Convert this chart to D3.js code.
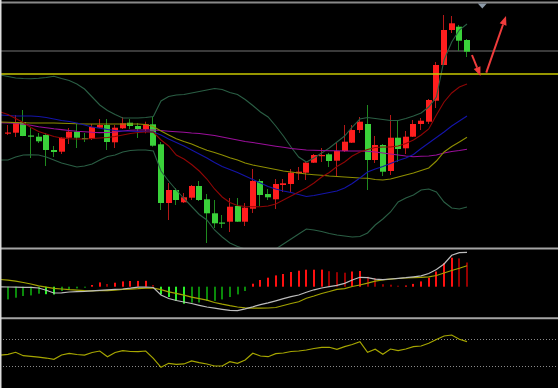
<!DOCTYPE html>
<html><head><meta charset="utf-8">
<script src="https://cdn.jsdelivr.net/npm/d3@7"></script>
<style>html,body{margin:0;padding:0;background:#000;overflow:hidden}</style>
</head><body><svg id="c" width="558" height="388"></svg>
<script>
// ---- candles (index 0..60) ----
const open  = [16.65,16.73,17.8,16.45,16.33,16.5,15.0,14.83,16.23,16.83,16.2,16.1,17.23,17.5,15.77,17.17,17.73,17.4,17.07,17.57,15.57,9.7,11.0,9.77,10.23,11.4,10.07,8.67,7.75,7.83,9.4,7.83,9.13,11.9,10.6,10.07,11.5,11.6,12.67,12.73,13.73,14.4,14.57,13.93,14.9,15.73,17.0,17.6,14.0,15.5,12.9,16.23,15.17,16.33,17.6,17.83,19.93,23.5,27.0,27.33,26.0];
const close = [16.75,17.8,16.4,16.35,15.87,15.0,14.8,16.23,16.83,16.23,16.1,17.3,17.5,15.8,17.23,17.67,17.4,17.1,17.57,15.43,9.7,11.0,10.0,10.27,11.4,10.0,8.67,7.67,7.65,9.33,7.83,9.23,11.9,10.5,10.27,11.6,11.67,12.73,12.83,13.73,14.5,14.5,13.9,14.9,15.83,17.0,17.83,14.0,15.5,12.83,16.23,15.1,16.33,17.6,17.93,20.0,23.5,27.0,27.67,25.93,24.83];
const high  = [17.5,18.5,19.0,17.2,16.7,16.7,15.4,16.3,17.2,17.6,16.7,17.6,18.1,18.1,17.5,18.3,18.1,17.7,17.83,18.33,15.8,11.7,11.2,10.7,11.5,11.9,10.6,10.0,8.5,10.2,10.2,9.7,13.1,12.1,11.1,12.1,12.1,13.1,13.3,13.9,14.6,15.2,14.7,15.8,17.5,17.5,18.3,19.5,16.4,15.6,18.5,17.9,16.9,18.0,18.2,20.1,23.8,28.5,28.4,27.5,26.1];
const low   = [16.5,16.3,16.38,14.2,15.7,13.4,14.3,14.6,15.6,15.2,15.8,16.0,17.2,15.0,15.2,17.1,17.1,16.2,16.67,15.33,9.0,8.0,9.5,9.7,10.0,9.9,5.7,7.2,7.2,6.8,7.8,7.4,8.7,9.4,10.0,9.1,10.8,10.8,12.0,12.0,13.7,13.8,13.3,12.3,14.8,15.7,16.7,11.0,13.7,12.4,12.5,13.8,14.6,16.3,17.0,17.6,19.2,23.5,26.7,24.9,24.3];

// ---- overlay lines (index -1..60) ----
const bollUpper = [22.5,22.35,22.2,22.15,22.13,22.18,22.25,22.38,22.15,21.95,21.6,21.1,20.3,19.5,18.95,18.55,18.2,18.2,18.2,18.25,18.35,19.9,20.35,20.5,20.55,20.7,20.85,21.0,21.15,21.05,20.75,20.55,20.05,19.45,18.8,18.3,17.4,16.4,15.3,14.3,13.8,14.2,14.7,15.2,15.8,16.4,17.3,18.1,18.25,18.15,18.05,17.95,17.95,18.15,18.4,18.7,19.3,20.3,24.0,25.8,27.0,27.6];
const bollLower = [14.0,14.0,14.3,14.5,14.53,14.5,14.3,14.0,13.7,13.5,13.3,13.4,13.6,14.0,14.35,14.5,14.8,14.95,15.0,15.0,14.9,12.9,11.9,11.0,10.15,9.35,8.55,8.0,7.0,6.3,5.7,5.35,5.1,4.9,4.8,4.9,5.1,5.6,6.1,6.6,7.1,7.0,6.85,6.65,6.5,6.4,6.3,6.35,6.7,7.5,8.1,8.8,9.8,10.2,10.5,11.0,11.1,10.8,9.8,9.2,9.1,9.3];
const maRed    = [18.8,18.55,18.15,17.75,17.25,16.85,16.6,16.35,16.2,16.13,16.1,16.1,16.15,16.2,16.25,16.35,16.5,16.65,16.75,16.8,16.8,16.0,15.4,14.5,14.1,13.55,12.9,12.1,11.1,10.3,9.75,9.45,9.35,9.33,9.33,9.4,9.6,10.0,10.4,10.8,11.2,11.7,12.3,12.75,13.35,13.8,14.4,14.8,15.05,15.25,15.3,15.3,15.4,15.65,16.0,16.5,17.1,18.5,19.8,20.7,21.3,21.6];
const maBlue   = [18.5,18.45,18.4,18.4,18.4,18.35,18.25,18.1,17.95,17.85,17.7,17.5,17.3,17.17,17.05,16.95,16.9,16.87,16.85,16.85,16.8,16.5,16.1,15.75,15.4,15.0,14.6,14.2,13.75,13.35,13.05,12.75,12.4,12.05,11.7,11.35,11.1,10.9,10.75,10.55,10.35,10.45,10.6,10.75,10.9,11.2,11.65,12.2,12.8,13.1,13.35,13.65,13.95,14.2,14.55,15.15,15.7,16.25,16.8,17.4,17.9,18.4];
const maOlive  = [17.8,17.77,17.74,17.72,17.7,17.7,17.7,17.7,17.67,17.65,17.62,17.6,17.6,17.6,17.6,17.6,17.6,17.6,17.6,17.55,17.35,16.9,16.5,16.12,15.85,15.6,15.27,14.97,14.75,14.5,14.22,14.0,13.7,13.5,13.35,13.2,13.05,12.9,12.8,12.7,12.6,12.53,12.47,12.4,12.35,12.3,12.25,12.2,12.17,12.05,12.0,12.1,12.3,12.5,12.7,12.95,13.2,13.9,14.8,15.35,15.8,16.27];
const maPurple = [17.73,17.7,17.67,17.58,17.48,17.33,17.22,17.12,17.04,16.95,16.87,16.82,16.77,16.74,16.75,16.8,16.9,16.97,17.0,17.0,17.0,16.95,16.88,16.82,16.77,16.7,16.65,16.55,16.45,16.3,16.15,16.0,15.85,15.75,15.62,15.5,15.38,15.27,15.15,15.07,15.0,14.98,14.95,14.93,14.92,14.9,14.9,14.9,14.87,14.8,14.7,14.6,14.5,14.4,14.33,14.37,14.4,14.5,14.7,14.85,14.95,15.07];

// horizontal price levels
const levelGray = 24.9;
const levelYellow = 22.6;

// ---- MACD ----
const macdHist = [-0.127,-0.11,-0.093,-0.087,-0.07,-0.075,-0.078,-0.043,-0.033,-0.017,-0.01,0.017,0.043,0.027,0.04,0.053,0.057,0.058,0.059,0.017,-0.077,-0.103,-0.143,-0.17,-0.16,-0.158,-0.143,-0.141,-0.127,-0.103,-0.077,-0.043,0.03,0.067,0.09,0.113,0.127,0.147,0.16,0.17,0.17,0.171,0.155,0.145,0.14,0.152,0.157,0.10,0.085,0.025,0.02,0.01,0.012,0.028,0.053,0.09,0.152,0.237,0.29,0.283,0.242];
const macdDif = [-0.001,-0.003,-0.005,-0.006,-0.007,-0.013,-0.036,-0.063,-0.061,-0.053,-0.05,-0.047,-0.041,-0.036,-0.031,-0.026,-0.023,-0.015,-0.005,-0.003,-0.008,-0.083,-0.118,-0.138,-0.153,-0.168,-0.186,-0.203,-0.215,-0.226,-0.236,-0.239,-0.221,-0.201,-0.179,-0.161,-0.141,-0.12,-0.10,-0.083,-0.056,-0.031,-0.013,0.0,0.014,0.033,0.067,0.094,0.091,0.075,0.07,0.077,0.084,0.09,0.099,0.109,0.132,0.172,0.227,0.314,0.34,0.344];
const macdDea = [0.072,0.065,0.055,0.042,0.027,0.009,-0.005,-0.016,-0.023,-0.03,-0.035,-0.039,-0.041,-0.038,-0.039,-0.035,-0.027,-0.024,-0.02,-0.014,-0.015,-0.03,-0.051,-0.066,-0.085,-0.105,-0.12,-0.135,-0.158,-0.175,-0.19,-0.203,-0.211,-0.215,-0.215,-0.213,-0.208,-0.188,-0.168,-0.151,-0.116,-0.093,-0.068,-0.048,-0.026,-0.019,0.002,0.017,0.035,0.055,0.069,0.075,0.082,0.087,0.09,0.093,0.099,0.112,0.137,0.162,0.185,0.21];

// ---- oscillator (index -1..60) ----
const osc = [46.4,47.5,50.5,45.4,44.5,43.4,41.9,40.0,46.4,49.0,47.2,46.4,50.2,52.4,43.9,50.2,52.9,51.7,51.4,52.4,41.5,28.0,34.0,32.5,33.0,37.5,34.9,33.0,30.0,30.0,36.4,34.0,38.9,49.0,44.9,43.9,48.4,49.4,51.7,52.4,53.9,56.2,58.0,58.0,55.0,58.9,62.2,66.4,50.5,55.0,47.5,55.4,52.9,55.4,58.9,59.9,64.0,69.7,74.9,76.4,70.0,66.4];
const oscLevels = [70, 30];

// ---- annotations: arrows (index, price) ----
const arrows = [
  {from:[60.65,24.5], to:[61.76,22.4]},
  {from:[62.52,22.73], to:[65.1,28.4]}
];
const markerIndex = 62;

// ================= drawing =================
const W=558, H=388;
const svg = d3.select('#c');
svg.append('rect').attr('width',W).attr('height',H).attr('fill','#000');

const x  = d3.scaleLinear().domain([0,60]).range([8,467]);
const y  = d3.scaleLinear().domain([5.2,29.7]).range([248,3]);
const ym = d3.scaleLinear().domain([-0.303,0.377]).range([317,249]);
const yo = d3.scaleLinear().domain([0,100]).range([386,319.25]);

const defs = svg.append('defs');
defs.append('clipPath').attr('id','cpMain').append('rect').attr('x',0).attr('y',4).attr('width',W).attr('height',243.5);
defs.append('clipPath').attr('id','cpMacd').append('rect').attr('x',0).attr('y',249.5).attr('width',W).attr('height',67.5);
defs.append('clipPath').attr('id','cpOsc').append('rect').attr('x',0).attr('y',319.5).attr('width',W).attr('height',68);

const main = svg.append('g').attr('clip-path','url(#cpMain)');

// gray level line (behind candles)
main.append('line').attr('x1',0).attr('x2',W).attr('y1',y(levelGray)).attr('y2',y(levelGray))
  .attr('stroke','#3a3a3a').attr('stroke-width',1.8);

// candles
const idx = d3.range(open.length);
const cg = main.append('g');
idx.forEach(i=>{
  const up = close[i] >= open[i];
  const left = Math.round(x(i)-3);
  cg.append('line').attr('x1',left+2.5).attr('x2',left+2.5)
    .attr('y1',y(high[i])).attr('y2',y(low[i]))
    .attr('stroke', up ? '#b41818' : '#1f8a1f').attr('stroke-width',1);
  const yt = y(Math.max(open[i],close[i])), yb = y(Math.min(open[i],close[i]));
  cg.append('rect').attr('x',left).attr('width',6)
    .attr('y',yt).attr('height',Math.max(1.2,yb-yt))
    .attr('fill', up ? '#ff1e1e' : '#3ad23a');
});

// overlay lines
const lineIdx = (ys)=> d3.line().x((d,i)=>x(i-1)).y(d=>ys(d));
const overlays = [
  [bollUpper,'#2a5e44'],[bollLower,'#2a5e44'],
  [maPurple,'#9a0f9a'],[maOlive,'#8e8e00'],[maBlue,'#1414a8'],[maRed,'#8f0606']
];
overlays.forEach(([arr,col])=>{
  main.append('path').attr('d',lineIdx(y)(arr)).attr('fill','none')
    .attr('stroke',col).attr('stroke-width',1.1);
});

// yellow level line
main.append('line').attr('x1',0).attr('x2',W).attr('y1',y(levelYellow)).attr('y2',y(levelYellow))
  .attr('stroke','#c8c800').attr('stroke-width',1.6);

// arrows
arrows.forEach(a=>{
  const x1=x(a.from[0]), y1=y(a.from[1]), x2=x(a.to[0]), y2=y(a.to[1]);
  const ang=Math.atan2(y2-y1,x2-x1), hl=9, hw=3.6;
  const bx=x2-hl*Math.cos(ang), by=y2-hl*Math.sin(ang);
  svg.append('line').attr('x1',x1).attr('y1',y1).attr('x2',bx).attr('y2',by)
    .attr('stroke','#f03c3c').attr('stroke-width',2);
  const px=-Math.sin(ang), py=Math.cos(ang);
  svg.append('polygon').attr('points',[[x2,y2],[bx+px*hw,by+py*hw],[bx-px*hw,by-py*hw]].map(p=>p.join(',')).join(' '))
    .attr('fill','#f03c3c');
});

// MACD panel
const mg = svg.append('g').attr('clip-path','url(#cpMacd)');
macdHist.forEach((v,i)=>{
  const p = i>0 ? macdHist[i-1] : null;
  let col;
  if (v >= 0) col = (p!==null && v >= p) ? '#ff1010' : '#960000';
  else col = (p!==null && v <= p) ? '#2af02a' : '#0a8a0a';
  const y0 = ym(0), y1 = ym(v);
  mg.append('rect').attr('x',Math.round(x(i))-1).attr('width',2)
    .attr('y',Math.min(y0,y1)).attr('height',Math.max(0.8,Math.abs(y1-y0))).attr('fill',col);
});
mg.append('path').attr('d',lineIdx(ym)(macdDea)).attr('fill','none').attr('stroke','#a3a300').attr('stroke-width',1.2);
mg.append('path').attr('d',lineIdx(ym)(macdDif)).attr('fill','none').attr('stroke','#bcbcbc').attr('stroke-width',1.2);

// oscillator panel
const og = svg.append('g').attr('clip-path','url(#cpOsc)');
oscLevels.forEach(l=>{
  og.append('line').attr('x1',0).attr('x2',W).attr('y1',Math.round(yo(l))+0.5).attr('y2',Math.round(yo(l))+0.5)
    .attr('stroke','#8a8a8a').attr('stroke-width',1).attr('stroke-dasharray','1,2');
});
og.append('path').attr('d',lineIdx(yo)(osc)).attr('fill','none').attr('stroke','#a6a600').attr('stroke-width',1.2);

// frame / separators
svg.append('line').attr('x1',0).attr('x2',W).attr('y1',2.5).attr('y2',2.5).attr('stroke','#8a8a8a').attr('stroke-width',2);
svg.append('line').attr('x1',0).attr('x2',W).attr('y1',248.5).attr('y2',248.5).attr('stroke','#a4a4a4').attr('stroke-width',2);
svg.append('line').attr('x1',0).attr('x2',W).attr('y1',318.2).attr('y2',318.2).attr('stroke','#a4a4a4').attr('stroke-width',2);
svg.append('line').attr('x1',0.75).attr('x2',0.75).attr('y1',0).attr('y2',H).attr('stroke','#dcdcdc').attr('stroke-width',1.5);

// top marker triangle
const mx = x(markerIndex);
svg.append('polygon').attr('points',`${mx-4.5},3.5 ${mx+4.5},3.5 ${mx},8.5`).attr('fill','#8c9aa8');
</script>
</body></html>
